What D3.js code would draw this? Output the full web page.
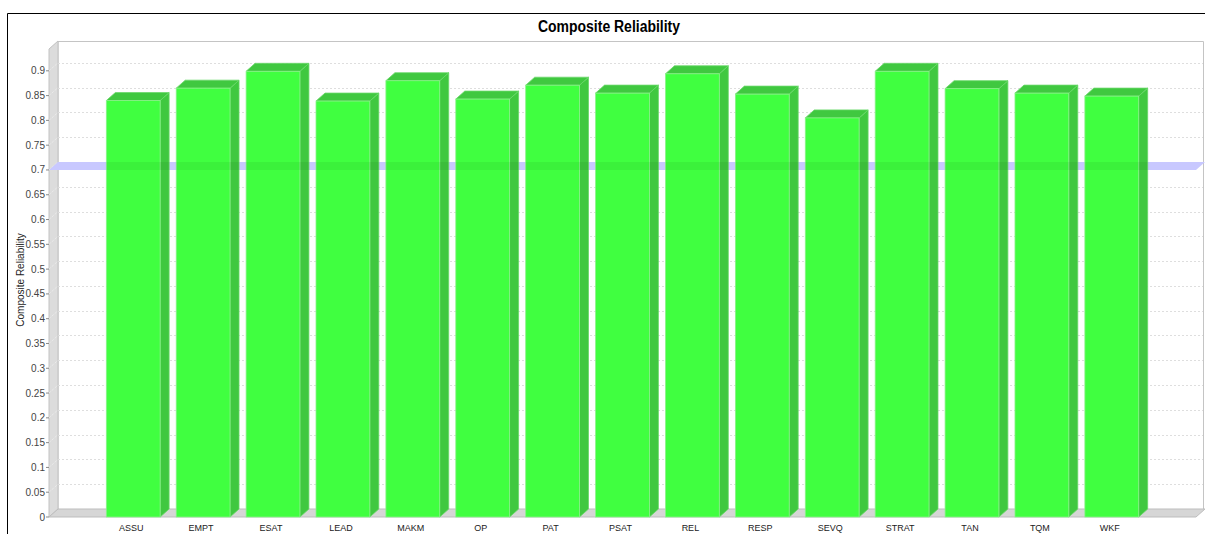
<!DOCTYPE html>
<html>
<head>
<meta charset="utf-8">
<script src="https://cdn.jsdelivr.net/npm/d3@7"></script>
<style>
  body { margin: 0; background: #fff; }
  text { font-family: "Liberation Sans", Arial, sans-serif; }
</style>
</head>
<body>
<div id="chart"></div>
<script>
// data
var categories = ["ASSU", "EMPT", "ESAT", "LEAD", "MAKM", "OP", "PAT", "PSAT", "REL", "RESP", "SEVQ", "STRAT", "TAN", "TQM", "WKF"];
var values = [0.840, 0.865, 0.899, 0.839, 0.880, 0.843, 0.871, 0.855, 0.894, 0.853, 0.805, 0.899, 0.864, 0.855, 0.849];
var yTicks = [0, 0.05, 0.1, 0.15, 0.2, 0.25, 0.3, 0.35, 0.4, 0.45, 0.5, 0.55, 0.6, 0.65, 0.7, 0.75, 0.8, 0.85, 0.9];
var threshold = 0.7;
var yMax = 0.944;

const W = 1205, H = 534;
const dx = 9, dy = -8; // 3d depth offset

let svg = d3.select('#chart').append('svg')
    .attr('width', W)
    .attr('height', H);

let x = d3.scaleBand()
    .domain(categories)
    .range([49, 1196])
    .paddingInner(0.23)
    .paddingOuter(0.82);

let y = d3.scaleLinear()
    .domain([0, yMax])
    .range([517, 49]);

// outer border
svg.append('path')
    .attr('d', 'M7.5,534 L7.5,13.5 L1205,13.5')
    .attr('fill', 'none')
    .attr('stroke', '#000');

// title
svg.append('text')
    .attr('x', 609)
    .attr('y', 32)
    .attr('text-anchor', 'middle')
    .style('font-family', '"Liberation Sans Narrow", "Arial Narrow", "Liberation Sans", sans-serif')
    .style('font-weight', 'bold')
    .style('font-size', '16px')
    .attr('textLength', 142)
    .attr('lengthAdjust', 'spacingAndGlyphs')
    .text('Composite Reliability');

const x0 = 49, x1 = 1196, y0 = y(0), yTop = y(yMax);

// back plane border
svg.append('path')
    .attr('d', `M${x0 + dx},${y0 + dy} L${x0 + dx},${yTop + dy + 0.5} L${x1 + dx - 1.5},${yTop + dy + 0.5} L${x1 + dx - 1.5},${y0 + dy}`)
    .attr('fill', 'none')
    .attr('stroke', '#c4c4c4');

// left wall
svg.append('path')
    .attr('d', `M${x0},${y0} L${x0},${yTop} L${x0 + dx},${yTop + dy} L${x0 + dx},${y0 + dy} Z`)
    .attr('fill', '#dcdcdc')
    .attr('stroke', '#c2c2c2');

// floor
svg.append('path')
    .attr('d', `M${x0},${y0} L${x0 + dx},${y0 + dy} L${x1 + dx},${y0 + dy} L${x1},${y0} Z`)
    .attr('fill', '#d6d6d6')
    .attr('stroke', '#bdbdbd');

// gridlines
let grid = svg.append('g');
yTicks.slice(1).forEach(function (t) {
    grid.append('line')
        .attr('x1', x0 + dx).attr('x2', x1 + dx - 2)
        .attr('y1', Math.round(y(t) + dy) + 0.5).attr('y2', Math.round(y(t) + dy) + 0.5)
        .attr('stroke', '#dedede')
        .attr('stroke-dasharray', '2,2');
    grid.append('line')
        .attr('x1', x0).attr('x2', x0 + dx)
        .attr('y1', y(t)).attr('y2', y(t) + dy)
        .attr('stroke', '#f0f0f0')
        .attr('stroke-dasharray', '1,1');
});

// threshold band behind bars
const ty = y(threshold);
const bandPath = `M${x0},${ty} L${x0 + dx},${ty + dy} L${x1 + dx},${ty + dy} L${x1},${ty} Z`;
svg.append('path')
    .attr('d', bandPath)
    .attr('fill', '#c8c8ff');

// bars
let bars = svg.append('g');
let clip = svg.append('defs').append('clipPath').attr('id', 'barclip');
categories.forEach(function (c, i) {
    const bx = x(c), bw = x.bandwidth(), by = y(values[i]);
    // side
    bars.append('path')
        .attr('d', `M${bx + bw},${by} L${bx + bw + dx},${by + dy} L${bx + bw + dx},${y0 + dy} L${bx + bw},${y0} Z`)
        .attr('fill', '#40c840')
        .attr('stroke', '#6ad86a')
        .attr('stroke-width', 0.8);
    // top
    bars.append('path')
        .attr('d', `M${bx},${by} L${bx + dx},${by + dy} L${bx + bw + dx},${by + dy} L${bx + bw},${by} Z`)
        .attr('fill', '#40c840')
        .attr('stroke', '#6ad86a')
        .attr('stroke-width', 0.8);
    // front
    bars.append('rect')
        .attr('x', bx)
        .attr('y', by)
        .attr('width', bw)
        .attr('height', y0 - by)
        .attr('fill', '#40ff40')
        .attr('stroke', '#8cf08c')
        .attr('stroke-width', 0.8);
    clip.append('path')
        .attr('d', `M${bx},${y0} L${bx},${by} L${bx + dx},${by + dy} L${bx + bw + dx},${by + dy} L${bx + bw + dx},${y0 + dy} L${bx + bw},${y0} Z`);
});

// threshold band tint over bars
svg.append('path')
    .attr('d', bandPath)
    .attr('clip-path', 'url(#barclip)')
    .attr('fill', 'rgba(0,60,0,0.07)');

// y axis ticks and labels
let yAxis = svg.append('g');
yTicks.forEach(function (t) {
    yAxis.append('line')
        .attr('x1', x0 - 3).attr('x2', x0)
        .attr('y1', y(t)).attr('y2', y(t))
        .attr('stroke', '#888');
    yAxis.append('text')
        .attr('x', x0 - 4)
        .attr('y', y(t) + 3.5)
        .attr('text-anchor', 'end')
        .style('font-size', '10px')
        .attr('fill', '#444')
        .text(t);
});

// y axis title
svg.append('text')
    .attr('transform', 'translate(23.5,280) rotate(-90)')
    .attr('text-anchor', 'middle')
    .style('font-size', '10px')
    .attr('fill', '#222')
    .text('Composite Reliability');

// category labels
categories.forEach(function (c) {
    svg.append('text')
        .attr('x', x(c) + x.bandwidth() / 2 - 2)
        .attr('y', 531)
        .attr('text-anchor', 'middle')
        .style('font-size', '9px')
        .attr('fill', '#222')
        .text(c);
});
</script>
</body>
</html>
